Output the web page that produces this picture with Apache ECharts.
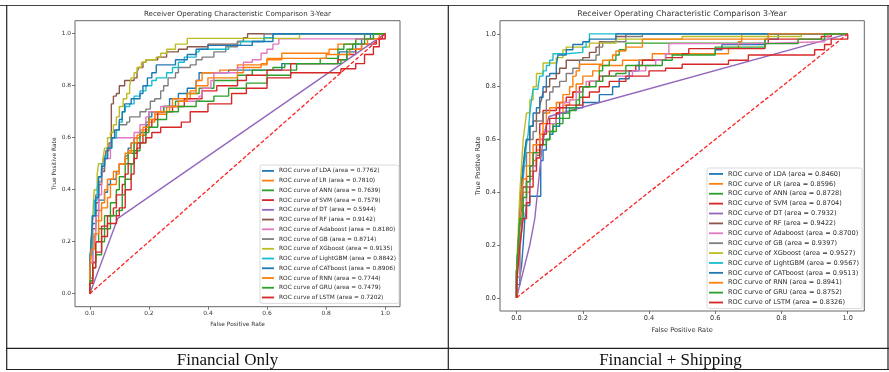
<!DOCTYPE html>
<html>
<head>
<meta charset="utf-8">
<title>ROC comparison 3-Year</title>
<script src="https://cdn.jsdelivr.net/npm/echarts@6/dist/echarts.min.js"></script>
<style>
html, body { margin: 0; padding: 0; background: #fff; }
#chart { width: 889px; height: 372px; }
</style>
</head>
<body>
<div id="chart"></div>
<script>
// models, in legend order
const models = ['LDA', 'LR', 'ANN', 'SVM', 'DT', 'RF', 'Adaboost', 'GB', 'XGboost', 'LightGBM', 'CATboost', 'RNN', 'GRU', 'LSTM'];
const aucFin = ['0.7762', '0.7810', '0.7639', '0.7579', '0.5944', '0.9142', '0.8180', '0.8714', '0.9135', '0.8842', '0.8906', '0.7744', '0.7479', '0.7202'];
const aucShip = ['0.8460', '0.8596', '0.8728', '0.8704', '0.7932', '0.9422', '0.8700', '0.9397', '0.9527', '0.9567', '0.9513', '0.8941', '0.8752', '0.8326'];
const ticks = [0, 0.2, 0.4, 0.6, 0.8, 1.0];
const chance = [[0, 0], [1, 1]];

// Financial only: [fpr, tpr] where the curve steps up
const finLDA = [[0,0],[0,0.1],[0.005,0.2],[0.01,0.27],[0.02,0.32],[0.03,0.36],[0.05,0.39],[0.06,0.42],[0.07,0.44],[0.09,0.47],[0.1,0.5],[0.12,0.53],[0.13,0.56],[0.14,0.58],[0.15,0.6],[0.17,0.62],[0.19,0.65],[0.2,0.68],[0.21,0.7],[0.25,0.72],[0.27,0.75],[0.3,0.77],[0.33,0.79],[0.36,0.82],[0.37,0.85],[0.47,0.86],[0.65,0.885],[0.84,0.9],[0.845,0.93],[0.9,0.96],[0.92,0.98],[0.95,1],[1,1]];
const finLR = [[0,0],[0,0.08],[0.005,0.15],[0.01,0.22],[0.02,0.28],[0.03,0.32],[0.04,0.35],[0.05,0.4],[0.06,0.44],[0.08,0.47],[0.1,0.5],[0.12,0.52],[0.13,0.55],[0.15,0.6],[0.17,0.63],[0.2,0.66],[0.22,0.69],[0.26,0.72],[0.28,0.75],[0.34,0.78],[0.36,0.82],[0.38,0.85],[0.44,0.86],[0.5,0.88],[0.6,0.9],[0.65,0.925],[0.81,0.94],[0.84,0.96],[0.9,0.98],[0.96,1],[1,1]];
const finANN = [[0,0],[0,0.06],[0.01,0.12],[0.02,0.2],[0.03,0.25],[0.05,0.3],[0.07,0.35],[0.09,0.4],[0.1,0.45],[0.12,0.5],[0.13,0.54],[0.15,0.58],[0.17,0.62],[0.19,0.66],[0.2,0.7],[0.25,0.72],[0.29,0.74],[0.33,0.77],[0.37,0.79],[0.42,0.82],[0.5,0.84],[0.55,0.86],[0.62,0.87],[0.66,0.885],[0.78,0.905],[0.84,0.94],[0.86,0.96],[0.9,0.98],[0.93,1],[1,1]];
const finSVM = [[0,0],[0,0.05],[0.01,0.12],[0.02,0.2],[0.04,0.26],[0.06,0.3],[0.08,0.33],[0.09,0.38],[0.11,0.42],[0.12,0.46],[0.13,0.5],[0.15,0.54],[0.16,0.58],[0.18,0.61],[0.19,0.64],[0.21,0.67],[0.23,0.7],[0.28,0.72],[0.32,0.75],[0.38,0.78],[0.43,0.8],[0.5,0.82],[0.53,0.84],[0.6,0.86],[0.68,0.885],[0.84,0.9],[0.87,0.92],[0.9,0.94],[0.92,0.96],[0.97,0.98],[0.99,1],[1,1]];
const finDT = [[0,0],[0.095,0.29],[1,1]];
const finRF = [[0,0],[0,0.12],[0.01,0.25],[0.02,0.35],[0.03,0.42],[0.04,0.47],[0.05,0.5],[0.055,0.55],[0.065,0.58],[0.073,0.73],[0.08,0.76],[0.09,0.77],[0.1,0.8],[0.118,0.82],[0.15,0.83],[0.16,0.85],[0.165,0.87],[0.18,0.89],[0.19,0.9],[0.23,0.91],[0.26,0.93],[0.3,0.94],[0.33,0.95],[0.4,0.96],[0.5,0.97],[0.52,0.985],[0.534,1],[1,1]];
const finAda = [[0,0],[0,0.12],[0.01,0.2],[0.02,0.3],[0.03,0.38],[0.04,0.45],[0.045,0.52],[0.07,0.56],[0.075,0.6],[0.15,0.62],[0.17,0.65],[0.19,0.68],[0.2,0.7],[0.24,0.72],[0.3,0.74],[0.37,0.76],[0.38,0.79],[0.41,0.82],[0.42,0.85],[0.5,0.87],[0.52,0.89],[0.55,0.9],[0.58,0.925],[0.6,0.94],[0.62,0.96],[0.64,0.98],[1,1]];
const finGB = [[0,0],[0,0.1],[0.005,0.2],[0.01,0.3],[0.02,0.38],[0.03,0.43],[0.04,0.48],[0.05,0.52],[0.06,0.56],[0.075,0.6],[0.09,0.63],[0.1,0.65],[0.125,0.66],[0.135,0.68],[0.17,0.7],[0.19,0.71],[0.205,0.74],[0.22,0.75],[0.24,0.78],[0.25,0.8],[0.265,0.83],[0.29,0.85],[0.3,0.87],[0.34,0.88],[0.36,0.9],[0.38,0.91],[0.42,0.93],[0.46,0.95],[0.5,0.97],[0.59,1],[1,1]];
const finXGB = [[0,0],[0,0.1],[0.005,0.2],[0.01,0.3],[0.015,0.4],[0.025,0.46],[0.03,0.5],[0.045,0.52],[0.05,0.56],[0.06,0.6],[0.07,0.62],[0.08,0.65],[0.09,0.68],[0.1,0.72],[0.113,0.75],[0.125,0.77],[0.135,0.8],[0.14,0.83],[0.15,0.85],[0.16,0.87],[0.175,0.89],[0.19,0.9],[0.225,0.91],[0.24,0.925],[0.26,0.94],[0.29,0.96],[0.33,0.982],[0.71,1],[1,1]];
const finLGBM = [[0,0],[0,0.15],[0.008,0.3],[0.015,0.36],[0.025,0.4],[0.03,0.45],[0.04,0.5],[0.05,0.53],[0.06,0.56],[0.075,0.6],[0.09,0.63],[0.1,0.66],[0.11,0.7],[0.12,0.72],[0.135,0.73],[0.15,0.76],[0.17,0.78],[0.19,0.8],[0.21,0.82],[0.225,0.83],[0.26,0.85],[0.28,0.87],[0.3,0.89],[0.32,0.91],[0.36,0.93],[0.37,0.94],[0.47,0.955],[0.51,0.97],[0.59,0.985],[0.62,1],[1,1]];
const finCAT = [[0,0],[0,0.12],[0.005,0.21],[0.01,0.3],[0.02,0.37],[0.03,0.45],[0.04,0.49],[0.05,0.52],[0.06,0.56],[0.073,0.6],[0.084,0.63],[0.1,0.67],[0.11,0.7],[0.118,0.73],[0.14,0.75],[0.17,0.77],[0.18,0.8],[0.195,0.83],[0.21,0.85],[0.225,0.88],[0.29,0.9],[0.33,0.92],[0.36,0.94],[0.4,0.955],[0.55,0.97],[0.62,1],[1,1]];
const finRNN = [[0,0],[0,0.1],[0.005,0.17],[0.015,0.23],[0.03,0.28],[0.04,0.33],[0.06,0.37],[0.07,0.42],[0.09,0.46],[0.1,0.5],[0.12,0.54],[0.14,0.58],[0.16,0.61],[0.18,0.64],[0.2,0.67],[0.22,0.7],[0.27,0.72],[0.3,0.74],[0.33,0.77],[0.36,0.8],[0.4,0.83],[0.5,0.85],[0.52,0.87],[0.58,0.885],[0.6,0.905],[0.8,0.92],[0.88,0.94],[0.92,0.96],[0.94,0.98],[0.98,1],[1,1]];
const finGRU = [[0,0],[0,0.05],[0.01,0.1],[0.02,0.15],[0.04,0.2],[0.05,0.25],[0.07,0.3],[0.09,0.32],[0.11,0.38],[0.12,0.44],[0.14,0.5],[0.15,0.55],[0.17,0.58],[0.19,0.62],[0.2,0.64],[0.23,0.67],[0.26,0.7],[0.3,0.72],[0.36,0.74],[0.42,0.76],[0.47,0.79],[0.53,0.81],[0.6,0.84],[0.68,0.86],[0.7,0.885],[0.85,0.9],[0.87,0.94],[0.89,0.96],[0.93,0.98],[0.96,1],[1,1]];
const finLSTM = [[0,0],[0,0.04],[0.01,0.1],[0.02,0.16],[0.04,0.22],[0.06,0.27],[0.09,0.3],[0.1,0.33],[0.12,0.4],[0.14,0.46],[0.15,0.52],[0.16,0.56],[0.17,0.58],[0.19,0.6],[0.21,0.62],[0.24,0.64],[0.31,0.66],[0.34,0.7],[0.4,0.73],[0.48,0.77],[0.53,0.79],[0.6,0.83],[0.68,0.85],[0.85,0.865],[0.9,0.885],[0.93,0.92],[0.96,0.95],[0.98,0.98],[1,1]];

// Financial + Shipping
const shipLDA = [[0,0],[0,0.05],[0.01,0.08],[0.015,0.12],[0.02,0.2],[0.025,0.3],[0.03,0.35],[0.04,0.385],[0.073,0.52],[0.08,0.56],[0.09,0.6],[0.1,0.62],[0.11,0.65],[0.13,0.7],[0.15,0.72],[0.2,0.74],[0.25,0.77],[0.29,0.8],[0.31,0.83],[0.34,0.86],[0.37,0.9],[0.45,0.925],[0.6,0.94],[0.62,0.96],[0.75,0.98],[0.79,1],[1,1]];
const shipLR = [[0,0],[0,0.1],[0.005,0.2],[0.01,0.3],[0.02,0.4],[0.03,0.44],[0.04,0.48],[0.05,0.52],[0.06,0.56],[0.07,0.6],[0.08,0.63],[0.1,0.66],[0.12,0.7],[0.14,0.73],[0.16,0.75],[0.17,0.78],[0.18,0.81],[0.2,0.84],[0.23,0.86],[0.25,0.88],[0.32,0.9],[0.41,0.925],[0.64,0.945],[0.67,0.97],[0.68,1],[1,1]];
const shipANN = [[0,0],[0,0.08],[0.01,0.18],[0.015,0.28],[0.02,0.35],[0.03,0.42],[0.04,0.46],[0.05,0.5],[0.06,0.54],[0.07,0.58],[0.08,0.6],[0.1,0.63],[0.11,0.66],[0.12,0.68],[0.14,0.7],[0.16,0.72],[0.18,0.75],[0.19,0.78],[0.2,0.8],[0.22,0.82],[0.25,0.86],[0.26,0.88],[0.28,0.9],[0.3,0.92],[0.31,0.94],[0.33,0.965],[0.75,0.98],[0.76,1],[1,1]];
const shipSVM = [[0,0],[0,0.1],[0.005,0.2],[0.01,0.28],[0.015,0.35],[0.02,0.42],[0.03,0.46],[0.04,0.5],[0.05,0.55],[0.06,0.6],[0.07,0.66],[0.08,0.71],[0.12,0.72],[0.13,0.74],[0.15,0.76],[0.17,0.78],[0.19,0.8],[0.22,0.82],[0.25,0.84],[0.28,0.86],[0.36,0.88],[0.38,0.9],[0.45,0.91],[0.5,0.925],[0.52,0.944],[0.75,0.963],[0.76,0.98],[0.92,0.99],[0.95,1],[1,1]];
const shipDT = [[0,0],[0.01,0.05],[0.04,0.2],[0.055,0.3],[0.065,0.42],[0.075,0.55],[0.085,0.63],[0.098,0.687],[1,1]];
const shipRF = [[0,0],[0,0.08],[0.005,0.18],[0.01,0.3],[0.015,0.42],[0.02,0.48],[0.025,0.55],[0.03,0.6],[0.04,0.65],[0.05,0.67],[0.06,0.7],[0.07,0.73],[0.075,0.75],[0.08,0.78],[0.09,0.8],[0.1,0.83],[0.12,0.85],[0.13,0.87],[0.15,0.9],[0.2,0.91],[0.22,0.93],[0.24,0.95],[0.25,0.97],[0.3,0.99],[0.33,1],[1,1]];
const shipAda = [[0,0],[0,0.08],[0.01,0.18],[0.015,0.25],[0.02,0.32],[0.03,0.4],[0.04,0.45],[0.05,0.5],[0.06,0.55],[0.07,0.6],[0.08,0.63],[0.1,0.66],[0.12,0.7],[0.13,0.72],[0.14,0.74],[0.16,0.75],[0.18,0.78],[0.2,0.8],[0.21,0.82],[0.26,0.84],[0.35,0.86],[0.39,0.88],[0.42,0.9],[0.45,0.925],[0.46,0.963],[0.7,0.97],[0.93,0.98],[0.94,1],[1,1]];
const shipGB = [[0,0],[0,0.1],[0.005,0.2],[0.01,0.35],[0.015,0.44],[0.02,0.5],[0.03,0.55],[0.04,0.6],[0.05,0.63],[0.06,0.67],[0.08,0.7],[0.09,0.75],[0.1,0.78],[0.11,0.8],[0.13,0.82],[0.15,0.85],[0.17,0.87],[0.19,0.9],[0.24,0.92],[0.25,0.95],[0.26,0.97],[0.33,0.99],[0.38,1],[1,1]];
const shipXGB = [[0,0],[0,0.12],[0.005,0.25],[0.01,0.4],[0.015,0.5],[0.02,0.6],[0.025,0.65],[0.03,0.7],[0.04,0.75],[0.05,0.8],[0.06,0.85],[0.08,0.89],[0.12,0.91],[0.14,0.94],[0.15,0.95],[0.22,0.965],[0.3,0.98],[0.5,0.99],[0.86,1],[1,1]];
const shipLGBM = [[0,0],[0,0.1],[0.005,0.2],[0.01,0.3],[0.015,0.37],[0.02,0.45],[0.025,0.52],[0.03,0.58],[0.035,0.62],[0.04,0.7],[0.045,0.75],[0.05,0.79],[0.065,0.8],[0.07,0.84],[0.08,0.86],[0.09,0.88],[0.1,0.9],[0.11,0.925],[0.15,0.93],[0.2,0.95],[0.21,0.97],[0.22,1],[1,1]];
const shipCAT = [[0,0],[0,0.1],[0.005,0.2],[0.01,0.3],[0.015,0.4],[0.02,0.5],[0.025,0.56],[0.03,0.6],[0.04,0.65],[0.05,0.7],[0.06,0.72],[0.07,0.76],[0.08,0.8],[0.09,0.84],[0.1,0.85],[0.12,0.88],[0.125,0.92],[0.15,0.94],[0.17,0.96],[0.2,0.97],[0.22,0.98],[0.3,1],[1,1]];
const shipRNN = [[0,0],[0,0.1],[0.005,0.2],[0.01,0.3],[0.015,0.4],[0.02,0.45],[0.03,0.5],[0.04,0.55],[0.05,0.58],[0.07,0.62],[0.08,0.66],[0.09,0.7],[0.1,0.72],[0.12,0.74],[0.14,0.77],[0.16,0.8],[0.17,0.84],[0.18,0.86],[0.19,0.885],[0.26,0.9],[0.29,0.92],[0.3,0.935],[0.33,0.95],[0.38,0.98],[0.76,1],[1,1]];
const shipGRU = [[0,0],[0,0.1],[0.005,0.2],[0.01,0.3],[0.02,0.38],[0.03,0.44],[0.04,0.5],[0.05,0.55],[0.07,0.58],[0.09,0.6],[0.1,0.63],[0.12,0.66],[0.14,0.68],[0.16,0.71],[0.18,0.73],[0.19,0.76],[0.2,0.8],[0.24,0.82],[0.26,0.84],[0.3,0.85],[0.33,0.88],[0.44,0.9],[0.47,0.92],[0.6,0.95],[0.75,0.963],[0.85,0.98],[0.93,1],[1,1]];
const shipLSTM = [[0,0],[0,0.05],[0.005,0.12],[0.01,0.2],[0.015,0.25],[0.02,0.3],[0.03,0.36],[0.04,0.42],[0.05,0.48],[0.06,0.53],[0.07,0.58],[0.08,0.62],[0.09,0.66],[0.1,0.68],[0.12,0.7],[0.13,0.72],[0.15,0.73],[0.2,0.76],[0.22,0.78],[0.25,0.8],[0.28,0.82],[0.33,0.84],[0.4,0.86],[0.45,0.87],[0.5,0.885],[0.64,0.9],[0.7,0.92],[0.9,0.94],[0.93,0.96],[0.95,0.98],[1,1]];

const finCurves = [finLDA, finLR, finANN, finSVM, finDT, finRF, finAda, finGB, finXGB, finLGBM, finCAT, finRNN, finGRU, finLSTM];
const shipCurves = [shipLDA, shipLR, shipANN, shipSVM, shipDT, shipRF, shipAda, shipGB, shipXGB, shipLGBM, shipCAT, shipRNN, shipGRU, shipLSTM];

const palette = ['#1f77b4', '#ff7f0e', '#2ca02c', '#d62728', '#9467bd', '#8c564b', '#e377c2', '#7f7f7f', '#bcbd22', '#17becf', '#1f77b4', '#ff7f0e', '#2ca02c', '#d62728'];
const FONT = 'DejaVu Sans';

function rocSeries(curves, auc, gi) {
  const list = curves.map((pts, i) => ({
    name: 'ROC curve of ' + models[i] + ' (area = ' + auc[i] + ')',
    type: 'line',
    xAxisIndex: gi,
    yAxisIndex: gi,
    data: pts,
    step: models[i] === 'DT' ? false : 'end',
    symbol: 'none',
    silent: true,
    lineStyle: { color: palette[i], width: 1.4 },
    itemStyle: { color: palette[i] }
  }));
  list.push({
    type: 'line',
    xAxisIndex: gi,
    yAxisIndex: gi,
    data: chance,
    symbol: 'none',
    silent: true,
    lineStyle: { color: '#ff2020', width: 1.3, type: [4, 2] }
  });
  return list;
}

function axisPair(gi, fs, xGap, yGap) {
  const common = {
    gridIndex: gi,
    type: 'value',
    min: -0.05,
    max: 1.05,
    splitLine: { show: false },
    axisLine: { show: false, onZero: false },
    axisTick: { show: true, length: 3, customValues: ticks, lineStyle: { color: '#555', width: 0.8 } },
    axisLabel: { customValues: ticks, formatter: v => v.toFixed(1), fontSize: fs, color: '#333', margin: 4, fontFamily: FONT },
    nameLocation: 'middle',
    nameTextStyle: { fontSize: fs, color: '#333', fontFamily: FONT }
  };
  return {
    x: Object.assign({}, common, { name: 'False Positive Rate', nameGap: xGap }),
    y: Object.assign({}, common, { name: 'True Positive Rate', nameGap: yGap })
  };
}

function legendFor(auc, left, top, fs, iw, gap, lh) {
  return {
    data: models.map((m, i) => 'ROC curve of ' + m + ' (area = ' + auc[i] + ')'),
    left: left,
    top: top,
    orient: 'vertical',
    icon: 'rect',
    itemWidth: iw,
    itemHeight: 1.8,
    itemGap: gap,
    padding: [2, 3, 2, 2],
    selectedMode: false,
    backgroundColor: 'rgba(255,255,255,0.85)',
    borderColor: '#d0d0d0',
    borderWidth: 0.8,
    borderRadius: 2,
    textStyle: { fontSize: fs, color: '#2a2a2a', fontFamily: FONT, lineHeight: lh }
  };
}

const a0 = axisPair(0, 5.9, 13, 16);
const a1 = axisPair(1, 6.6, 13.5, 18.5);

const tableLine = (x1, y1, x2, y2, c) => ({
  type: 'line', silent: true,
  shape: { x1: x1, y1: y1, x2: x2, y2: y2 },
  style: { stroke: c || '#222', lineWidth: 1.2 }
});
const label = (txt, x, y, font, color) => ({
  type: 'text', silent: true,
  style: { text: txt, x: x, y: y, textAlign: 'center', textVerticalAlign: 'middle', font: font, fill: color }
});

const chart = echarts.init(document.getElementById('chart'));
chart.setOption({
  animation: false,
  backgroundColor: '#fff',
  grid: [
    { left: 75, top: 20.7, width: 325, height: 286, show: true, borderColor: '#666', borderWidth: 1 },
    { left: 500, top: 20.7, width: 364.3, height: 290.3, show: true, borderColor: '#666', borderWidth: 1 }
  ],
  xAxis: [a0.x, a1.x],
  yAxis: [a0.y, a1.y],
  legend: [
    legendFor(aucFin, 260, 165, 5.85, 12, 2, 7.74),
    legendFor(aucShip, 707, 168, 6.55, 14, 2, 7.89)
  ],
  series: rocSeries(finCurves, aucFin, 0).concat(rocSeries(shipCurves, aucShip, 1)),
  graphic: [
    tableLine(0, 5.5, 889, 5.5, '#444'),
    tableLine(6.7, 5, 6.7, 370),
    tableLine(448.3, 5, 448.3, 370),
    tableLine(888, 5, 888, 370),
    tableLine(6, 348.3, 889, 348.3),
    tableLine(6, 369.5, 889, 369.5),
    label('Receiver Operating Characteristic Comparison 3-Year', 237.5, 14, '7.05px "DejaVu Sans"', '#333'),
    label('Receiver Operating Characteristic Comparison 3-Year', 682, 14, '7.9px "DejaVu Sans"', '#333'),
    label('Financial Only', 227.5, 360.5, '17px "Liberation Serif"', '#111'),
    label('Financial + Shipping', 670.5, 360.5, '17px "Liberation Serif"', '#111')
  ]
});
</script>
</body>
</html>
